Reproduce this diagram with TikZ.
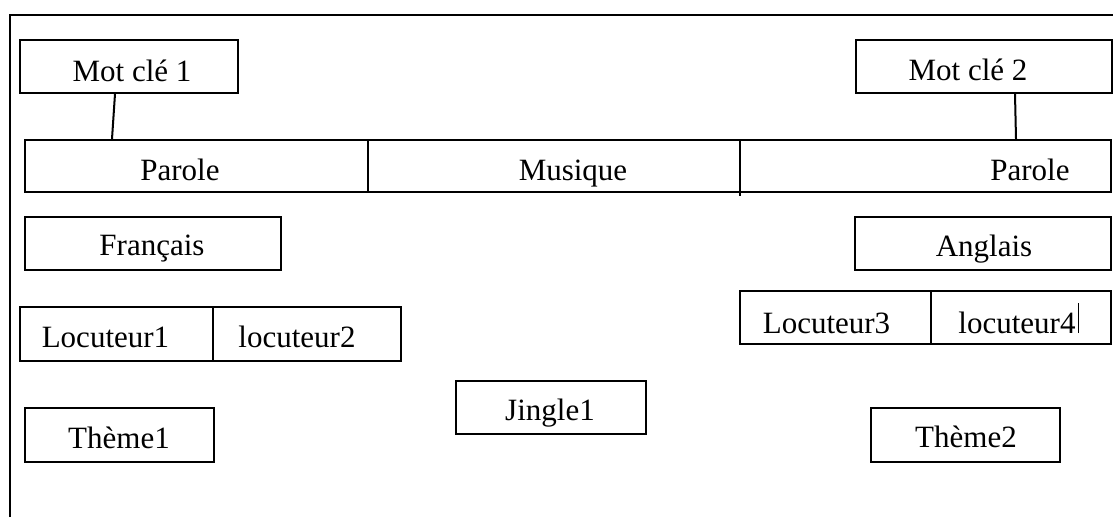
\documentclass[tikz,border=0pt]{standalone}
\usepackage{fontspec}
\setmainfont{Liberation Serif}
\usetikzlibrary{calc}
\begin{document}
\begin{tikzpicture}[x=1pt,y=-1pt,
  line width=2pt,
  box/.style={draw, rectangle, inner sep=0pt},
  txt/.style={inner sep=0pt, anchor=base, font=\fontsize{31}{36}\selectfont}]
\useasboundingbox (0,0) rectangle (1113,517);

% frame (left and top edges)
\coordinate (fbl) at (10,517);
\coordinate (ftl) at (10,15);
\coordinate (ftr) at (1113,15);
\draw (fbl) -- (ftl) -- (ftr);

% keyword boxes
\node[box, minimum width=218pt, minimum height=53pt] (mc1) at (129,66.5) {};
\node[box, minimum width=256pt, minimum height=53pt] (mc2) at (984,66.5) {};
\node[txt] (tmc1) at (132,81) {Mot clé 1};
\node[txt] (tmc2) at (968,80) {Mot clé 2};

% speech / music timeline
\node[box, minimum width=1086pt, minimum height=52pt] (row) at (568,166) {};
\draw ($(row.north west)+(344,0)$) -- ($(row.south west)+(344,0)$);
\draw ($(row.north west)+(716,0)$) -- ($(row.south west)+(716,3)$);
\node[txt] (p1) at (180,180) {Parole};
\node[txt] (mus) at (573,180) {Musique};
\node[txt] (p2) at (1030,180) {Parole};

% keyword links
\draw ($(mc1.south)+(-14,0)$) -- ($(row.north west)+(88,0)$);
\draw ($(mc2.south)+(31,0)$) -- ($(row.north west)+(992,0)$);

% languages
\node[box, minimum width=256pt, minimum height=53pt] (fr) at (153,243.5) {};
\node[box, minimum width=256pt, minimum height=53pt] (en) at (983,243.5) {};
\node[txt] (tfr) at (152,255) {Français};
\node[txt] (ten) at (984,256) {Anglais};

% speakers
\node[box, minimum width=381pt, minimum height=54pt] (loc12) at (210.5,334) {};
\draw ($(loc12.north west)+(194,0)$) -- ($(loc12.south west)+(194,0)$);
\node[txt] (l1) at (105.5,347) {Locuteur1};
\node[txt] (l2) at (297,347) {locuteur2};

\node[box, minimum width=371pt, minimum height=53pt] (loc34) at (925.5,317.5) {};
\draw ($(loc34.north west)+(192,0)$) -- ($(loc34.south west)+(192,0)$);
\node[txt] (l3) at (826.5,333) {Locuteur3};
\node[txt] (l4) at (1017,333) {locuteur4};
\draw[line width=1pt] ($(l4.base east)+(1.5,0)$) -- ++(0,-30);

% themes and jingle
\node[box, minimum width=189pt, minimum height=54pt] (th1) at (119.5,435) {};
\node[box, minimum width=190pt, minimum height=53pt] (jg) at (551,407.5) {};
\node[box, minimum width=189pt, minimum height=54pt] (th2) at (965.5,435) {};
\node[txt] (tth1) at (119,448) {Thème1};
\node[txt] (tjg) at (550,420) {Jingle1};
\node[txt] (tth2) at (966,447) {Thème2};
\end{tikzpicture}
\end{document}
